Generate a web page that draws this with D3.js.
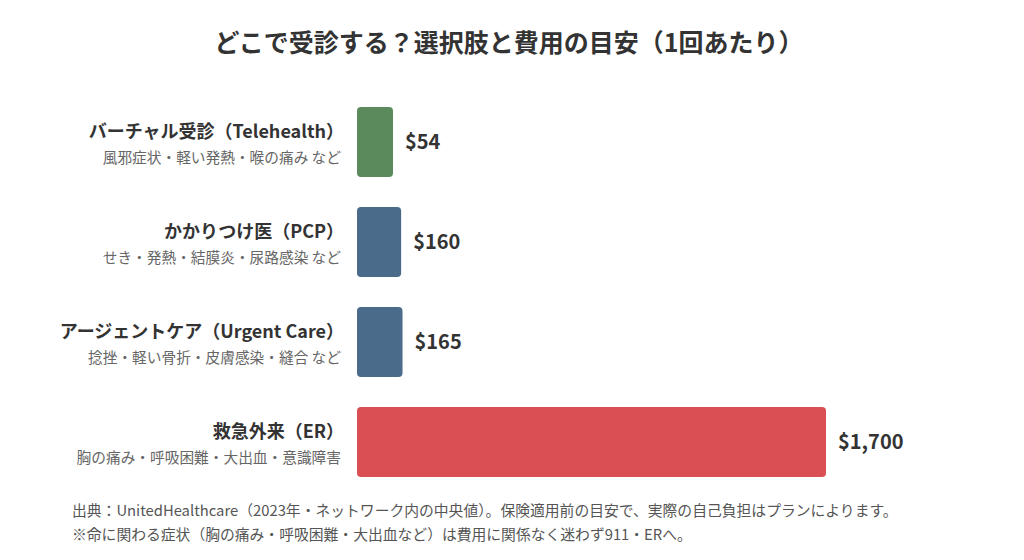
<!DOCTYPE html>
<html>
<head>
<meta charset="utf-8">
<title>どこで受診する？</title>
<script src="https://d3js.org/d3.v7.min.js"></script>
<style>
  body { margin: 0; background: #fff; }
  text { font-family: "Noto Sans CJK JP", "Noto Sans", sans-serif; }
</style>
</head>
<body>
<div id="chart"></div>
<script>
// data
var names = ["バーチャル受診（Telehealth）", "かかりつけ医（PCP）", "アージェントケア（Urgent Care）", "救急外来（ER）"];
var examples = ["風邪症状・軽い発熱・喉の痛み など", "せき・発熱・結膜炎・尿路感染 など", "捻挫・軽い骨折・皮膚感染・縫合 など", "胸の痛み・呼吸困難・大出血・意識障害"];
var costs = [54, 160, 165, 1700];
var colors = ["#5b8a5d", "#4a6b89", "#4a6b89", "#d94f53"];
var notes = [
  "出典：UnitedHealthcare（2023年・ネットワーク内の中央値）。保険適用前の目安で、実際の自己負担はプランによります。",
  "※命に関わる症状（胸の痛み・呼吸困難・大出血など）は費用に関係なく迷わず911・ERへ。"
];

var W = 1024, H = 560;
var svg = d3.select("#chart").append("svg")
  .attr("width", W).attr("height", H);

svg.append("text")
  .attr("x", 509).attr("y", 52)
  .attr("text-anchor", "middle")
  .style("font-size", "25px").style("font-weight", "bold").style("fill", "#333")
  .text("どこで受診する？選択肢と費用の目安（1回あたり）");

var x = d3.scaleLinear().domain([0, 1700]).range([0, 469]);
var y = d3.scaleBand().domain(names).range([92, 492]).paddingInner(0.3).paddingOuter(0.15);
var x0 = 357;
var minW = 36;

var row = svg.selectAll(".row").data(names).enter().append("g").attr("class", "row");

row.append("rect")
  .attr("x", x0)
  .attr("y", function(d) { return y(d); })
  .attr("width", function(d, i) { return Math.max(minW, x(costs[i])); })
  .attr("height", y.bandwidth())
  .attr("rx", 4)
  .style("fill", function(d, i) { return colors[i]; });

row.append("text")
  .attr("x", 344)
  .attr("y", function(d) { return y(d) + y.bandwidth() / 2 - 4; })
  .attr("text-anchor", "end")
  .style("font-size", "18px").style("font-weight", "bold").style("fill", "#333")
  .text(function(d) { return d; });

row.append("text")
  .attr("x", 341)
  .attr("y", function(d) { return y(d) + y.bandwidth() / 2 + 21; })
  .attr("text-anchor", "end")
  .style("font-size", "14.7px").style("fill", "#666")
  .text(function(d, i) { return examples[i]; });

row.append("text")
  .attr("x", function(d, i) { return x0 + Math.max(minW, x(costs[i])) + 12; })
  .attr("y", function(d) { return y(d) + y.bandwidth() / 2; })
  .attr("dy", "0.35em")
  .style("font-size", "20px").style("font-weight", "bold").style("fill", "#333")
  .text(function(d, i) { return "$" + d3.format(",")(costs[i]); });

svg.selectAll(".note").data(notes).enter().append("text")
  .attr("x", 72)
  .attr("y", function(d, i) { return 516 + i * 24; })
  .style("font-size", "14.8px").style("fill", "#555")
  .text(function(d) { return d; });
</script>
</body>
</html>
